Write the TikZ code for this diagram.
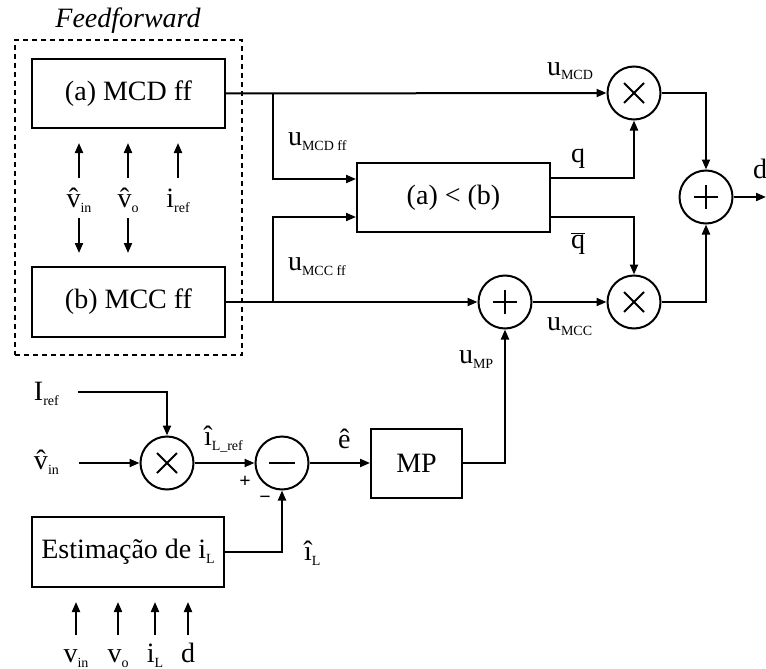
\documentclass[tikz,border=0pt]{standalone}
\usepackage{fontspec}
\setmainfont{Liberation Serif}
\usetikzlibrary{arrows.meta,calc}
\tikzset{every picture/.style={line width=2pt}}
\newcommand{\bigtxt}{\fontsize{28}{30}\selectfont}
\newcommand{\lsub}[1]{\raisebox{-5pt}{\fontsize{14}{14}\selectfont #1}}

\begin{document}
\begin{tikzpicture}[x=1pt, y=-1pt, >={Triangle[length=10pt,width=8pt]},
    blk/.style={draw, minimum width=193pt, minimum height=69pt, inner sep=0pt, font=\bigtxt},
    opc/.style={draw, circle, minimum size=53pt, inner sep=0pt},
    mulop/.style={opc, path picture={\draw (path picture bounding box.center) +(-10pt,-10pt) -- +(10pt,10pt)
        (path picture bounding box.center) +(-10pt,10pt) -- +(10pt,-10pt);}},
    addop/.style={opc, path picture={\draw (path picture bounding box.center) +(-12pt,0pt) -- +(12pt,0pt)
        (path picture bounding box.center) +(0pt,-12pt) -- +(0pt,12pt);}},
    subop/.style={opc, path picture={\draw (path picture bounding box.center) +(-13pt,0pt) -- +(13pt,0pt);}},
    lbl/.style={font=\bigtxt, inner sep=0pt, anchor=base west},
    lblc/.style={font=\bigtxt, inner sep=0pt, anchor=base}]
    \useasboundingbox (0,0) rectangle (766,669);

    % Feedforward
    \node[draw, dash pattern=on 5pt off 4pt, minimum width=227pt, minimum height=315pt] (ff) at (128.5,197.5) {};
    \node[lblc, font=\bigtxt\itshape] (fftitle) at (128,28) {Feedforward};
    \node[blk] (mcdff) at (128.5,93.5) {(a) MCD ff};
    \node[blk, minimum height=70pt] (mccff) at (128.5,302) {(b) MCC ff};
    \node[lblc] (lvin) at (79,207) {\^{v}\lsub{in}};
    \node[lblc] (lvo) at (128,207) {\^{v}\lsub{o}};
    \node[lblc] (liref) at (178,207) {i\lsub{ref}};
    \foreach \n in {lvin,lvo,liref}
        \draw[->] ([yshift=29pt]\n.base) -- ++(0,-35);
    \foreach \n in {lvin,lvo}
        \draw[->] ([yshift=-11pt]\n.base) -- ++(0,35);

    % blocos
    \node[blk] (cmp) at (453.5,197.5) {(a) < (b)};
    \node[blk, minimum width=91pt] (mp) at (416.5,463) {MP};
    \node[blk, minimum width=192pt, minimum height=70pt] (est) at (128,552) {Estimação de i\lsub{L}};

    % somadores / multiplicadores
    \node[mulop] (mul1) at (634,93) {};
    \node[mulop] (mul2) at (634,302) {};
    \node[addop] (sum1) at (505,302) {};
    \node[addop] (sum2) at (706,197) {};
    \node[mulop] (mul3) at (167,463) {};
    \node[subop] (dif) at (282,463) {};

    % ligacoes
    \coordinate (br1) at (273,93.5);
    \coordinate (br2) at (273,302);
    \coordinate (dout) at (766,197);
    \coordinate (irefin) at (78,392);
    \coordinate (vinin) at (79,463);
    \draw[->] (mcdff.east) -- (mul1.west);
    \draw[->] (br1) |- ([yshift=18.5pt]cmp.west);
    \draw[->] (mccff.east) -- (sum1.west);
    \draw[->] (br2) |- ([yshift=-19.5pt]cmp.west);
    \draw[->] ([yshift=19.5pt]cmp.east) -| (mul1.south);
    \draw[->] ([yshift=-19.5pt]cmp.east) -| (mul2.north);
    \draw[->] (sum1.east) -- (mul2.west);
    \draw[->] (mul1.east) -| (sum2.north);
    \draw[->] (mul2.east) -| (sum2.south);
    \draw[->] (sum2.east) -- (dout);
    \draw[->] (mp.east) -| (sum1.south);
    \draw[->] (irefin) -| (mul3.north);
    \draw[->] (vinin) -- (mul3.west);
    \draw[->] (mul3.east) -- (dif.west);
    \draw[->] (dif.east) -- (mp.west);
    \draw[->] (est.east) -| (dif.south);

    % rotulos
    \node[lbl] (umcd) at (546,75) {u\lsub{MCD}};
    \node[lbl] (umcdff) at (287,145) {u\lsub{MCD ff}};
    \node[lbl] (umccff) at (287,270) {u\lsub{MCC ff}};
    \node[lbl] (lq) at (570,162) {q};
    \node[lbl] (lqb) at (570,248) {$\overline{\mbox{q}}$};
    \node[lbl] (umcc) at (546,330) {u\lsub{MCC}};
    \node[lbl] (ump) at (458,363) {u\lsub{MP}};
    \node[lbl] (ld) at (752,178) {d};
    \node[lbl] (liref2) at (33,400) {I\lsub{ref}};
    \node[lbl] (lvin2) at (33,469) {\^{v}\lsub{in}};
    \node[lbl] (lilref) at (203,445) {\^{\i}\lsub{L\_ref}};
    \node[lbl] (le) at (337,448) {\^{e}};
    \node[lbl] (lil) at (303,560) {\^{\i}\lsub{L}};
    \node[font=\fontsize{20}{20}\selectfont\bfseries, inner sep=0pt] (lplus) at (245,482) {+};
    \node[font=\fontsize{20}{20}\selectfont\bfseries, inner sep=0pt] (lminus) at (265,500) {−};

    % entradas da estimacao
    \node[lblc] (evin) at (76,662) {v\lsub{in}};
    \node[lblc] (evo) at (118,662) {v\lsub{o}};
    \node[lblc] (eil) at (155,662) {i\lsub{L}};
    \node[lblc] (ed) at (188,662) {d};
    \foreach \n in {evin,evo,eil,ed}
        \draw[->] ([yshift=27pt]\n.base) -- ++(0,-33);
\end{tikzpicture}
\end{document}
